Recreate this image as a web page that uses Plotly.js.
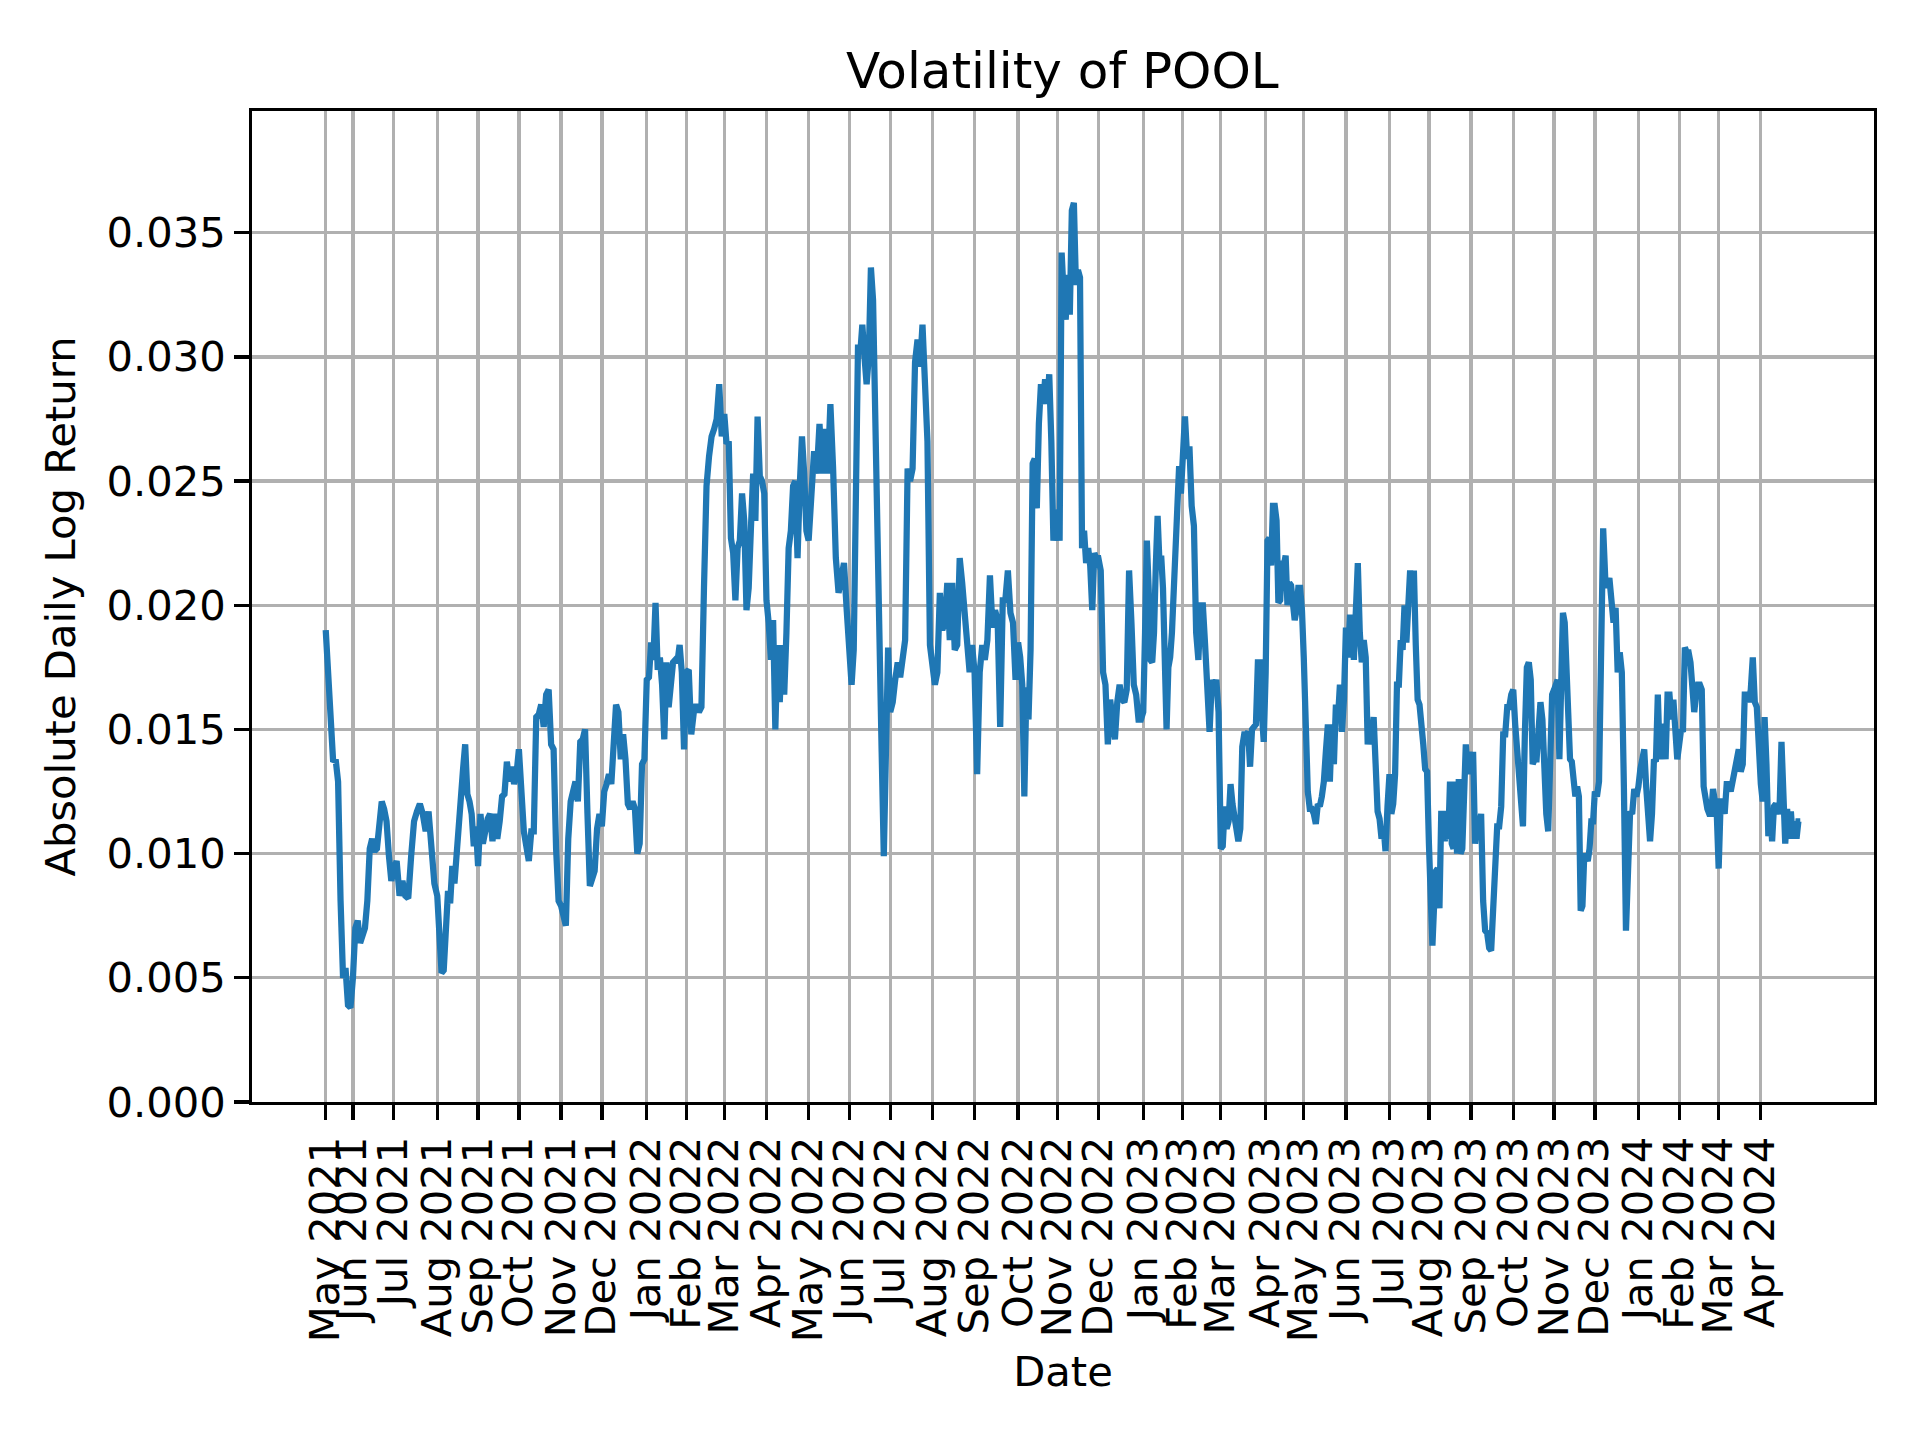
<!DOCTYPE html>
<html>
<head>
<meta charset="utf-8">
<script src="https://cdn.plot.ly/plotly-3.0.1.min.js"></script>
<style>html,body{margin:0;padding:0;background:#fff;}#chart{width:1920px;height:1440px;}</style>
</head>
<body>
<div id="chart"></div>
<script>
// Month boundaries (first trading day of each month; first = first data date) and labels
const tickDates = ["2021-05-12","2021-06-01","2021-07-01","2021-08-02","2021-09-01","2021-10-01","2021-11-01","2021-12-01",
  "2022-01-03","2022-02-01","2022-03-01","2022-04-01","2022-05-02","2022-06-01","2022-07-01","2022-08-01","2022-09-01","2022-10-03","2022-11-01","2022-12-01",
  "2023-01-03","2023-02-01","2023-03-01","2023-04-03","2023-05-01","2023-06-01","2023-07-03","2023-08-01","2023-09-01","2023-10-02","2023-11-01","2023-12-01",
  "2024-01-02","2024-02-01","2024-03-01","2024-04-01"];
const tickLabels = ["May 2021","Jun 2021","Jul 2021","Aug 2021","Sep 2021","Oct 2021","Nov 2021","Dec 2021",
  "Jan 2022","Feb 2022","Mar 2022","Apr 2022","May 2022","Jun 2022","Jul 2022","Aug 2022","Sep 2022","Oct 2022","Nov 2022","Dec 2022",
  "Jan 2023","Feb 2023","Mar 2023","Apr 2023","May 2023","Jun 2023","Jul 2023","Aug 2023","Sep 2023","Oct 2023","Nov 2023","Dec 2023",
  "Jan 2024","Feb 2024","Mar 2024","Apr 2024"];
const lastDate = "2024-04-30";

// Volatility values, month by month
const may2021 = [0.0190,0.0168,0.0154,0.0137,0.0138,0.0129,0.0081,0.0050,0.0054,0.0039,0.0038];
const jun2021 = [0.0050,0.0070,0.0073,0.0064,0.0068,0.0070,0.0081,0.0102,0.0106,0.0101,0.0102,0.0116,0.0121,0.0118,0.0113,0.0099,0.0089];
const jul2021 = [0.0094,0.0097,0.0083,0.0089,0.0083,0.0082,0.0099,0.0113,0.0117,0.0120,0.0116,0.0109,0.0117,0.0104,0.0088];
const aug2021 = [0.0083,0.0068,0.0052,0.0053,0.0070,0.0085,0.0080,0.0095,0.0088,0.0102,0.0106,0.0120,0.0134,0.0144,0.0124,0.0121,0.0116,0.0103,0.0111];
const sep2021 = [0.0095,0.0116,0.0104,0.0110,0.0114,0.0116,0.0105,0.0116,0.0106,0.0113,0.0123,0.0124,0.0137,0.0129,0.0135,0.0128,0.0132];
const oct2021 = [0.0142,0.0123,0.0109,0.0103,0.0097,0.0109,0.0109,0.0155,0.0156,0.0160,0.0151,0.0164,0.0166,0.0144,0.0142,0.0102,0.0081];
const nov2021 = [0.0079,0.0074,0.0071,0.0106,0.0121,0.0125,0.0129,0.0121,0.0145,0.0146,0.0150,0.0116,0.0087,0.0090,0.0093,0.0110,0.0116];
const dec2021 = [0.0111,0.0125,0.0128,0.0132,0.0128,0.0144,0.0160,0.0157,0.0138,0.0148,0.0138,0.0120,0.0118,0.0121,0.0118,0.0100,0.0104,0.0136,0.0138];
const jan2022 = [0.0170,0.0171,0.0185,0.0178,0.0201,0.0174,0.0179,0.0168,0.0146,0.0177,0.0159,0.0166,0.0177,0.0178,0.0177,0.0184,0.0173,0.0142];
const feb2022 = [0.0173,0.0174,0.0148,0.0157,0.0160,0.0157,0.0159,0.0207,0.0248,0.0260,0.0268,0.0271,0.0275,0.0289,0.0268];
const mar2022 = [0.0277,0.0265,0.0266,0.0227,0.0221,0.0202,0.0223,0.0226,0.0245,0.0234,0.0198,0.0207,0.0231,0.0253,0.0234,0.0276,0.0252,0.0250,0.0245];
const apr2022 = [0.0202,0.0193,0.0178,0.0194,0.0150,0.0184,0.0161,0.0184,0.0164,0.0189,0.0223,0.0230,0.0248,0.0250,0.0219,0.0248,0.0268,0.0253,0.0230];
const may2022 = [0.0226,0.0250,0.0262,0.0253,0.0273,0.0253,0.0271,0.0253,0.0281,0.0255,0.0219,0.0205,0.0212,0.0217,0.0198];
const jun2022 = [0.0175,0.0168,0.0182,0.0253,0.0305,0.0301,0.0313,0.0300,0.0289,0.0300,0.0336,0.0323,0.0268,0.0221,0.0168,0.0141,0.0099,0.0138,0.0183];
const jul2022 = [0.0157,0.0161,0.0170,0.0177,0.0171,0.0181,0.0186,0.0255,0.0250,0.0255,0.0298,0.0307,0.0296,0.0313,0.0287,0.0266,0.0184];
const aug2022 = [0.0175,0.0168,0.0173,0.0205,0.0190,0.0193,0.0209,0.0186,0.0209,0.0182,0.0184,0.0219,0.0209,0.0198,0.0184,0.0173,0.0184];
const sep2022 = [0.0173,0.0132,0.0173,0.0184,0.0178,0.0186,0.0212,0.0191,0.0198,0.0194,0.0151,0.0202,0.0202,0.0214,0.0197,0.0193,0.0170];
const oct2022 = [0.0185,0.0179,0.0168,0.0123,0.0167,0.0154,0.0182,0.0257,0.0259,0.0239,0.0273,0.0289,0.0281,0.0291,0.0281,0.0293,0.0266,0.0226,0.0238];
const nov2022 = [0.0237,0.0226,0.0342,0.0325,0.0315,0.0333,0.0317,0.0359,0.0362,0.0329,0.0335,0.0332,0.0223,0.0230,0.0217,0.0223,0.0216,0.0198,0.0221,0.0219];
const dec2022 = [0.0219,0.0214,0.0173,0.0168,0.0144,0.0162,0.0154,0.0146,0.0161,0.0168,0.0162,0.0161,0.0166,0.0214,0.0193,0.0168,0.0164,0.0154,0.0154];
const jan2023 = [0.0157,0.0189,0.0226,0.0207,0.0178,0.0177,0.0189,0.0216,0.0236,0.0218,0.0220,0.0207,0.0174,0.0150,0.0175,0.0179,0.0189,0.0207,0.0230,0.0250,0.0256,0.0245];
const feb2023 = [0.0257,0.0276,0.0259,0.0264,0.0240,0.0232,0.0189,0.0178,0.0200,0.0200,0.0184,0.0161,0.0149,0.0170,0.0166,0.0170,0.0157];
const mar2023 = [0.0102,0.0103,0.0119,0.0110,0.0113,0.0128,0.0120,0.0116,0.0112,0.0105,0.0110,0.0143,0.0148,0.0148,0.0149,0.0135,0.0150,0.0151,0.0152,0.0177,0.0177,0.0157,0.0145];
const apr2023 = [0.0173,0.0226,0.0227,0.0216,0.0240,0.0240,0.0234,0.0201,0.0202,0.0218,0.0216,0.0220,0.0200,0.0209,0.0208,0.0202,0.0194,0.0198,0.0207,0.0207,0.0198];
const may2023 = [0.0179,0.0148,0.0125,0.0118,0.0118,0.0116,0.0112,0.0120,0.0119,0.0123,0.0129,0.0141,0.0152,0.0129,0.0152,0.0136,0.0160,0.0154,0.0168,0.0149,0.0162];
const jun2023 = [0.0191,0.0179,0.0195,0.0195,0.0178,0.0193,0.0217,0.0189,0.0177,0.0186,0.0179,0.0144,0.0152,0.0144,0.0155,0.0136,0.0117,0.0114,0.0106,0.0111,0.0101,0.0119];
const jul2023 = [0.0132,0.0116,0.0120,0.0132,0.0168,0.0168,0.0186,0.0182,0.0200,0.0185,0.0201,0.0214,0.0202,0.0214,0.0184,0.0162,0.0160,0.0154,0.0144,0.0134,0.0133];
const aug2023 = [0.0104,0.0079,0.0063,0.0080,0.0093,0.0094,0.0078,0.0116,0.0116,0.0105,0.0111,0.0106,0.0129,0.0104,0.0102,0.0129,0.0100,0.0130,0.0100,0.0102,0.0138,0.0144,0.0134,0.0141];
const sep2023 = [0.0132,0.0141,0.0104,0.0113,0.0111,0.0116,0.0081,0.0069,0.0068,0.0062,0.0061,0.0081,0.0097,0.0111,0.0111,0.0119,0.0148,0.0148,0.0159,0.0159,0.0164];
const oct2023 = [0.0166,0.0152,0.0141,0.0136,0.0125,0.0111,0.0149,0.0175,0.0177,0.0170,0.0136,0.0138,0.0138,0.0154,0.0161,0.0154,0.0129,0.0116,0.0109,0.0138,0.0164];
const nov2023 = [0.0166,0.0168,0.0170,0.0138,0.0161,0.0197,0.0193,0.0173,0.0148,0.0138,0.0137,0.0128,0.0123,0.0127,0.0123,0.0077,0.0079,0.0099,0.0099,0.0097,0.0102,0.0113,0.0113];
const dec2023 = [0.0125,0.0123,0.0129,0.0168,0.0231,0.0211,0.0207,0.0211,0.0198,0.0193,0.0199,0.0173,0.0181,0.0173,0.0127,0.0069,0.0093,0.0117,0.0116,0.0126,0.0123];
const jan2024 = [0.0127,0.0134,0.0138,0.0142,0.0127,0.0109,0.0105,0.0116,0.0138,0.0137,0.0164,0.0138,0.0150,0.0152,0.0138,0.0164,0.0164,0.0154,0.0162,0.0150,0.0138];
const feb2024 = [0.0144,0.0150,0.0149,0.0183,0.0181,0.0181,0.0177,0.0168,0.0157,0.0164,0.0168,0.0168,0.0166,0.0127,0.0121,0.0118,0.0116,0.0116,0.0126,0.0120,0.0116];
const mar2024 = [0.0094,0.0121,0.0121,0.0116,0.0128,0.0128,0.0125,0.0129,0.0134,0.0138,0.0142,0.0133,0.0136,0.0164,0.0164,0.0161,0.0166,0.0179,0.0161,0.0159,0.0138];
const apr2024 = [0.0128,0.0121,0.0155,0.0136,0.0107,0.0118,0.0105,0.0119,0.0120,0.0116,0.0119,0.0145,0.0125,0.0104,0.0118,0.0106,0.0117,0.0106,0.0113,0.0106,0.0113,0.0113];

const monthSeries = [may2021,jun2021,jul2021,aug2021,sep2021,oct2021,nov2021,dec2021,
  jan2022,feb2022,mar2022,apr2022,may2022,jun2022,jul2022,aug2022,sep2022,oct2022,nov2022,dec2022,
  jan2023,feb2023,mar2023,apr2023,may2023,jun2023,jul2023,aug2023,sep2023,oct2023,nov2023,dec2023,
  jan2024,feb2024,mar2024,apr2024];

function toMs(s){ const p = s.split("-").map(Number); return Date.UTC(p[0], p[1]-1, p[2]); }
function pad(n){ return (n<10?"0":"")+n; }
function fmt(ms){ const d = new Date(ms);
  return d.getUTCFullYear()+"-"+pad(d.getUTCMonth()+1)+"-"+pad(d.getUTCDate())+" "+pad(d.getUTCHours())+":"+pad(d.getUTCMinutes())+":"+pad(d.getUTCSeconds()); }

const xs = [], ys = [];
for (let k = 0; k < monthSeries.length; k++) {
  const vals = monthSeries[k];
  const start = toMs(tickDates[k]);
  const isLast = (k === monthSeries.length - 1);
  const end = isLast ? toMs(lastDate) : toMs(tickDates[k+1]);
  const n = vals.length;
  for (let i = 0; i < n; i++) {
    const f = isLast ? i/(n-1) : i/n;
    xs.push(fmt(start + (end-start)*f));
    ys.push(vals[i]);
  }
}

const t0 = toMs(tickDates[0]), t1 = toMs(lastDate);
const marg = 0.05*(t1-t0);
const font = "DejaVu Sans, Liberation Sans, sans-serif";

const trace = {
  x: xs, y: ys, type: "scatter", mode: "lines",
  line: {color: "#1f77b4", width: 6.25},
  hoverinfo: "skip"
};

const layout = {
  width: 1920, height: 1440,
  paper_bgcolor: "#ffffff", plot_bgcolor: "#ffffff",
  font: {family: font, size: 41.7, color: "#000000"},
  margin: {l: 252, r: 46, t: 111, b: 338, pad: 0},
  showlegend: false,
  title: {text: "Volatility of POOL", font: {family: font, size: 50, color: "#000"},
          x: 0.5533, xanchor: "center", xref: "container", yref: "container", y: 0.951, yanchor: "middle"},
  xaxis: {
    type: "date",
    range: [fmt(t0 - marg), fmt(t1 + marg)],
    tickmode: "array", tickvals: tickDates, ticktext: tickLabels,
    tickangle: -90,
    ticks: "outside", ticklen: 14.6, tickwidth: 3.33, tickcolor: "#000",
    ticklabelstandoff: 0,
    showgrid: true, gridcolor: "#b0b0b0", gridwidth: 3.33,
    showline: true, linecolor: "#000", linewidth: 3.33, mirror: true,
    zeroline: false,
    tickfont: {family: font, size: 41.7, color: "#000"},
    title: {text: "Date", font: {family: font, size: 41.7, color: "#000"}, standoff: 16},
    automargin: false
  },
  yaxis: {
    range: [0, 0.0399],
    tickmode: "array", tickvals: [0,0.005,0.010,0.015,0.020,0.025,0.030,0.035],
    ticktext: ["0.000","0.005","0.010","0.015","0.020","0.025","0.030","0.035"],
    ticks: "outside", ticklen: 14.6, tickwidth: 3.33, tickcolor: "#000",
    ticklabelstandoff: 0,
    showgrid: true, gridcolor: "#b0b0b0", gridwidth: 3.33,
    showline: true, linecolor: "#000", linewidth: 3.33, mirror: true,
    zeroline: false,
    tickfont: {family: font, size: 41.7, color: "#000"},
    title: {text: "Absolute Daily Log Return", font: {family: font, size: 41.7, color: "#000"}, standoff: 18},
    automargin: false
  }
};

Plotly.newPlot("chart", [trace], layout, {staticPlot: true, displayModeBar: false});
</script>
</body>
</html>
